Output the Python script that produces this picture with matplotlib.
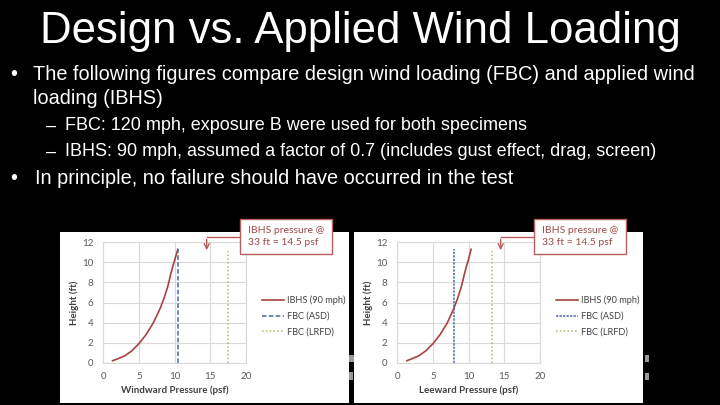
"""Slide: Design vs. Applied Wind Loading (two pressure-vs-height panels)."""
import matplotlib

matplotlib.use("Agg")
import matplotlib.pyplot as plt
from matplotlib.patches import Rectangle

W, H = 720, 405

# --- data ---
height_ft = [0.2, 0.38, 0.68, 1.18, 1.9, 2.8, 3.95, 5.45, 6.4, 7.5, 8.2, 8.95, 9.6, 10.2, 11.3]
windward_psf = [1.3, 2.0, 3.0, 4.0, 5.0, 6.0, 7.0, 8.0, 8.5, 9.0, 9.25, 9.5, 9.75, 10.0, 10.45]
leeward_psf = [1.35, 2.0, 3.0, 4.0, 5.0, 6.0, 7.0, 7.95, 8.45, 8.95, 9.2, 9.45, 9.7, 9.95, 10.35]
fbc_asd = {"Windward": 10.5, "Leeward": 7.9}
fbc_lrfd = {"Windward": 17.55, "Leeward": 13.3}
fbc_top_ft = 11.3
callout_psf = 14.5
xticks = [0, 5, 10, 15, 20]
yticks = [0, 2, 4, 6, 8, 10, 12]

title = "Design vs. Applied Wind Loading"
bullet_lines = [
    "The following figures compare design wind loading (FBC) and applied wind",
    "loading (IBHS)",
    "FBC: 120 mph, exposure B were used for both specimens",
    "IBHS: 90 mph, assumed a factor of 0.7 (includes gust effect, drag, screen)",
    "In principle, no failure should have occurred in the test",
]

RED = "#a8423f"
BLUE = "#4a6aa5"
OLIVE = "#b3b36b"
GRID = "#d9d9d9"
TXT = "#595959"
CALLOUT = "#b5605c"
CHART_FONT = ["Lato", "DejaVu Sans"]
SLIDE_FONT = ["Liberation Sans", "DejaVu Sans"]


def fx(x):
    return x / W


def fy(y):
    return 1 - y / H


fig = plt.figure(figsize=(7.2, 4.05), dpi=100, facecolor="black")

fig.text(0.5, fy(31), title, color="white", fontsize=31.5, ha="center", va="center", family=SLIDE_FONT)

# bullets: (marker, marker x, text x, y, size)
layout = [("•", 10, 33, 75, 14.3), ("", 10, 33, 98, 14.3), ("–", 46, 65, 126, 13),
          ("–", 46, 65, 152, 13), ("•", 10, 35, 179, 14.3)]
for line, (mark, mx, tx, y, size) in zip(bullet_lines, layout):
    if mark:
        fig.text(fx(mx), fy(y), mark, color="white", fontsize=size, va="center", family=SLIDE_FONT)
    fig.text(fx(tx), fy(y), line, color="white", fontsize=size, va="center", family=SLIDE_FONT)

panels = [
    ("Windward", windward_psf, 60, 349, 103.3),
    ("Leeward", leeward_psf, 354, 643, 397.3),
]

for side, psf, px0, px1, ax_left in panels:
    fig.add_artist(Rectangle((fx(px0), fy(403)), fx(px1 - px0), (403 - 232) / H,
                             transform=fig.transFigure, facecolor="white", edgecolor="none", zorder=0))
    ax = fig.add_axes([fx(ax_left), fy(362.7), 142.6 / W, (362.7 - 242.3) / H])
    ax.plot(psf, height_ft, color=RED, lw=1.2, label="IBHS (90 mph)")
    ax.plot([fbc_asd[side]] * 2, [0, fbc_top_ft], color=BLUE, lw=1.1,
            ls=(0, (3, 1.5)) if side == "Windward" else (0, (1.5, 0.8)), label="FBC (ASD)")
    ax.plot([fbc_lrfd[side]] * 2, [0, fbc_top_ft], color=OLIVE, lw=1.1, ls=(0, (1, 1.5)),
            label="FBC (LRFD)")
    ax.set_xlim(0, 20)
    ax.set_ylim(0, 12)
    ax.set_xticks(xticks)
    ax.set_yticks(yticks)
    ax.grid(color=GRID, lw=0.8)
    ax.set_axisbelow(True)
    for s in ax.spines.values():
        s.set_color(GRID)
        s.set_linewidth(0.8)
    ax.tick_params(length=0, labelsize=7, colors=TXT, pad=7)
    for lab in ax.get_xticklabels() + ax.get_yticklabels():
        lab.set_family(CHART_FONT)
    ax.set_xlabel(f"{side} Pressure (psf)", fontsize=7, fontweight="bold", color="#404040",
                  family=CHART_FONT, labelpad=3)
    ax.set_ylabel("Height (ft)", fontsize=7, fontweight="bold", color="#404040",
                  family=CHART_FONT, labelpad=2)
    ax.legend(loc="center left", bbox_to_anchor=(fx(ax_left + 158.5), fy(316)),
              bbox_transform=fig.transFigure, frameon=False, handlelength=2.4,
              handletextpad=0.35, labelspacing=0.75, borderpad=0, borderaxespad=0,
              prop={"family": CHART_FONT, "size": 6.6}, labelcolor="#404040")

    # callout box with elbow arrow pointing at 14.5 psf
    to_data = ax.transData.inverted()
    bx0, by0 = to_data.transform((ax_left + 137, H - 254))
    bx1, by1 = to_data.transform((ax_left + 229, H - 219))
    _, arm_y = to_data.transform((0, H - 237))
    _, tip_y = to_data.transform((0, H - 253))
    ax.add_patch(Rectangle((bx0, by0), bx1 - bx0, by1 - by0, facecolor="white", edgecolor=CALLOUT,
                           lw=1.0, clip_on=False, zorder=5))
    ax.text((bx0 + bx1) / 2, (by0 + by1) / 2, "IBHS pressure @\n33 ft = 14.5 psf", color="#a04a47",
            fontsize=7.5, va="center", ha="center", multialignment="left", family=CHART_FONT,
            linespacing=1.3, zorder=6, clip_on=False)
    ax.plot([callout_psf, bx0], [arm_y, arm_y], color=CALLOUT, lw=1.0, clip_on=False, zorder=5)
    ax.annotate("", xy=(callout_psf, tip_y), xytext=(callout_psf, arm_y + 0.05),
                arrowprops=dict(arrowstyle="->", color=CALLOUT, lw=1.0, mutation_scale=9),
                annotation_clip=False, zorder=5)

# grey scraps peeking through the gap between the panels
for x0, y0, w, h in [(349, 355, 5, 7), (349, 372, 4, 8), (645, 355, 4, 7), (645, 373, 4, 7)]:
    fig.add_artist(Rectangle((fx(x0), fy(y0 + h)), w / W, h / H, transform=fig.transFigure,
                             facecolor="#9a9a9a", edgecolor="none"))

fig.savefig("out.png", dpi=100, facecolor="black")
